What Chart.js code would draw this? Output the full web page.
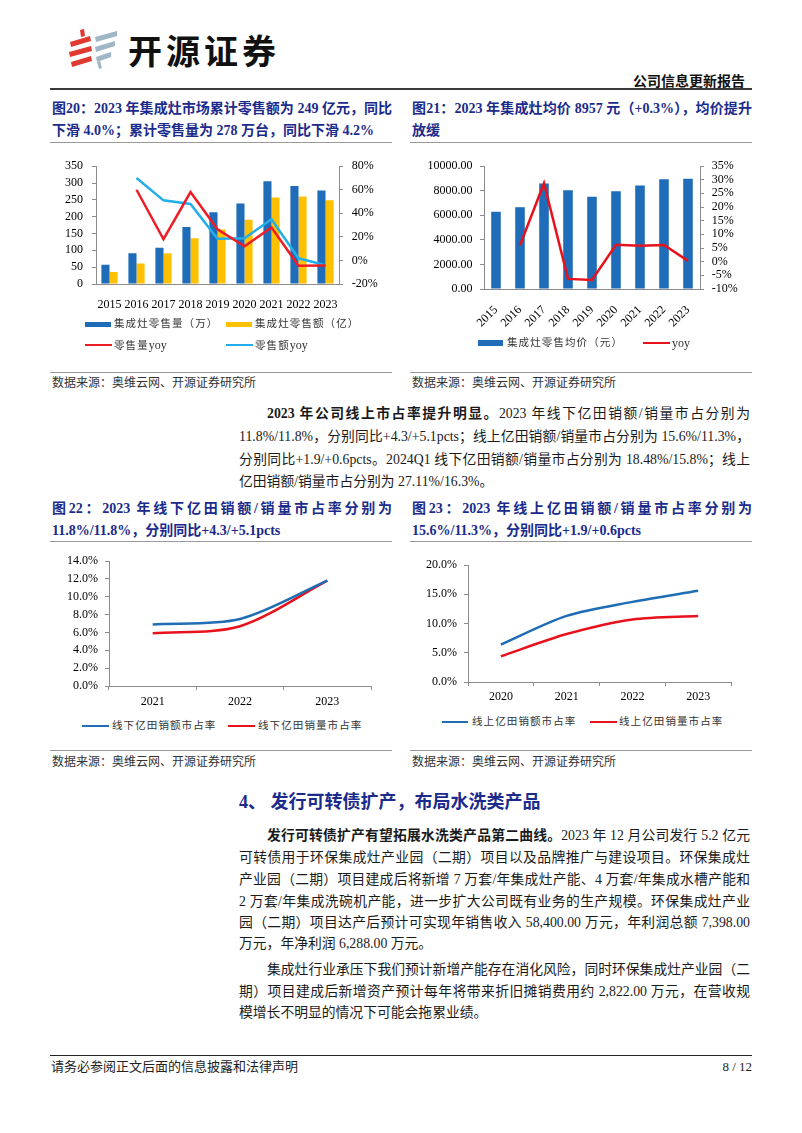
<!DOCTYPE html>
<html><head><meta charset="utf-8">
<script src="https://cdn.jsdelivr.net/npm/chart.js@4.4.1/dist/chart.umd.min.js"></script>
<style>
html,body{margin:0;padding:0;background:#fff;}
body{width:802px;height:1133px;position:relative;overflow:hidden;font-family:"Liberation Serif","Noto Sans CJK SC",serif;color:#1a1a1a;}
.a{position:absolute;white-space:nowrap;}
.t{font-weight:bold;color:#1b2b8c;font-size:14px;line-height:22px;}
.j{text-align:justify;text-align-last:justify;}
.p{font-size:13.8px;line-height:22px;color:#1a1a1a;}
.src{font-size:12px;color:#333;line-height:16px;}
.hr{position:absolute;height:0;}
.lg{position:absolute;font-size:10.5px;letter-spacing:1.1px;color:#333;line-height:14px;white-space:nowrap;}
.lg span{letter-spacing:0;font-size:12px;}
.sw{position:absolute;}
canvas{position:absolute;}
</style></head>
<body>
<!-- header -->
<svg class="a" style="left:66px;top:28px" width="56" height="42" viewBox="0 0 56 42">
  <polygon points="14,2 18,1 19,8 15,9" fill="#e0392f"/>
  <polygon points="4,14 24,8 25,13 5,19" fill="#e0392f"/>
  <polygon points="3,24 25,18 26,23 4,29" fill="#e0392f"/>
  <polygon points="5,34 25,28 26,33 6,39" fill="#e0392f"/>
  <polygon points="29,9 51,3 51,8 30,14" fill="#9fb6c6"/>
  <polygon points="29,19 49,13 49,18 30,24" fill="#9fb6c6"/>
  <polygon points="30,29 45,24 45,29 31,34" fill="#9fb6c6"/>
  <polygon points="31,34 34,33 36,40 33,41" fill="#9fb6c6"/>
</svg>
<div class="a" style="left:128px;top:27px;font-family:'Noto Sans CJK SC';font-weight:700;font-size:34px;letter-spacing:4px;color:#111;line-height:46px;">开源证券</div>
<div class="a" style="right:57px;top:71px;font-weight:bold;font-size:14px;line-height:22px;color:#111;">公司信息更新报告</div>
<div class="hr" style="left:50px;top:88px;width:702px;border-top:2px solid #3a3a3a;"></div>

<!-- fig 20 / 21 titles -->
<div class="a t j" style="left:52px;top:98px;width:340px;">图20：2023 年集成灶市场累计零售额为 249 亿元，同比</div>
<div class="a t" style="left:52px;top:120px;">下滑 4.0%；累计零售量为 278 万台，同比下滑 4.2%</div>
<div class="a t j" style="left:412px;top:98px;width:340px;">图21：2023 年集成灶均价 8957 元（+0.3%），均价提升</div>
<div class="a t" style="left:412px;top:120px;">放缓</div>
<div class="hr" style="left:50px;top:142px;width:342px;border-top:1px solid #9a9a9a;"></div>
<div class="hr" style="left:410px;top:142px;width:342px;border-top:1px solid #9a9a9a;"></div>

<canvas id="c1" width="345" height="160" style="left:50px;top:150px"></canvas>
<canvas id="c2" width="347" height="180" style="left:405px;top:150px"></canvas>

<div class="hr" style="left:50px;top:372px;width:342px;border-top:1px solid #9a9a9a;"></div>
<div class="hr" style="left:410px;top:372px;width:342px;border-top:1px solid #9a9a9a;"></div>
<div class="a src" style="left:52px;top:375px;">数据来源：奥维云网、开源证券研究所</div>
<div class="a src" style="left:412px;top:375px;">数据来源：奥维云网、开源证券研究所</div>

<!-- paragraph 1 -->
<div class="a p j" style="left:239px;top:403px;width:483px;padding-left:28px;"><b>2023 年公司线上市占率提升明显。</b>2023 年线下亿田销额/销量市占分别为</div>
<div class="a p j" style="left:239px;top:426px;width:511px;">11.8%/11.8%，分别同比+4.3/+5.1pcts；线上亿田销额/销量市占分别为 15.6%/11.3%，</div>
<div class="a p j" style="left:239px;top:449px;width:511px;">分别同比+1.9/+0.6pcts。2024Q1 线下亿田销额/销量市占分别为 18.48%/15.8%；线上</div>
<div class="a p" style="left:239px;top:471px;">亿田销额/销量市占分别为 27.11%/16.3%。</div>

<!-- fig 22 / 23 titles -->
<div class="a t j" style="left:52px;top:498px;width:340px;">图22：2023 年线下亿田销额/销量市占率分别为</div>
<div class="a t" style="left:52px;top:520px;">11.8%/11.8%，分别同比+4.3/+5.1pcts</div>
<div class="a t j" style="left:412px;top:498px;width:340px;">图23：2023 年线上亿田销额/销量市占率分别为</div>
<div class="a t" style="left:412px;top:520px;">15.6%/11.3%，分别同比+1.9/+0.6pcts</div>
<div class="hr" style="left:50px;top:541px;width:342px;border-top:1px solid #9a9a9a;"></div>
<div class="hr" style="left:410px;top:541px;width:342px;border-top:1px solid #9a9a9a;"></div>

<canvas id="c3" width="345" height="172" style="left:50px;top:540px"></canvas>
<canvas id="c4" width="347" height="168" style="left:405px;top:540px"></canvas>

<div class="hr" style="left:50px;top:750px;width:342px;border-top:1px solid #9a9a9a;"></div>
<div class="hr" style="left:410px;top:750px;width:342px;border-top:1px solid #9a9a9a;"></div>
<div class="a src" style="left:52px;top:754px;">数据来源：奥维云网、开源证券研究所</div>
<div class="a src" style="left:412px;top:754px;">数据来源：奥维云网、开源证券研究所</div>

<!-- section 4 -->
<div class="a" style="left:239px;top:789px;font-weight:bold;font-size:18px;line-height:26px;color:#1b2b8c;">4、 发行可转债扩产，布局水洗类产品</div>
<div class="a p j" style="left:239px;top:825px;width:483px;padding-left:28px;"><b>发行可转债扩产有望拓展水洗类产品第二曲线。</b>2023 年 12 月公司发行 5.2 亿元</div>
<div class="a p j" style="left:239px;top:847px;width:511px;">可转债用于环保集成灶产业园（二期）项目以及品牌推广与建设项目。环保集成灶</div>
<div class="a p j" style="left:239px;top:869px;width:511px;">产业园（二期）项目建成后将新增 7 万套/年集成灶产能、4 万套/年集成水槽产能和</div>
<div class="a p j" style="left:239px;top:891px;width:511px;">2 万套/年集成洗碗机产能，进一步扩大公司既有业务的生产规模。环保集成灶产业</div>
<div class="a p j" style="left:239px;top:912px;width:511px;">园（二期）项目达产后预计可实现年销售收入 58,400.00 万元，年利润总额 7,398.00</div>
<div class="a p" style="left:239px;top:933px;">万元，年净利润 6,288.00 万元。</div>
<div class="a p j" style="left:239px;top:959px;width:483px;padding-left:28px;">集成灶行业承压下我们预计新增产能存在消化风险，同时环保集成灶产业园（二</div>
<div class="a p j" style="left:239px;top:981px;width:511px;">期）项目建成后新增资产预计每年将带来折旧摊销费用约 2,822.00 万元，在营收规</div>
<div class="a p" style="left:239px;top:1002px;">模增长不明显的情况下可能会拖累业绩。</div>

<!-- footer -->
<div class="hr" style="left:50px;top:1055px;width:702px;border-top:1.5px solid #222;"></div>
<div class="a" style="left:51px;top:1058px;font-size:13px;line-height:18px;color:#222;">请务必参阅正文后面的信息披露和法律声明</div>
<div class="a" style="right:50px;top:1058px;font-size:13px;line-height:18px;color:#222;">8 / 12</div>

<div id="legends"></div>

<script>
// ---------- data ----------
const years = ['2015','2016','2017','2018','2019','2020','2021','2022','2023'];
const salesVolume = [57, 91, 108, 169, 213, 239, 305, 291, 278];   // 集成灶零售量（万）
const salesAmount = [36, 61, 91, 136, 162, 191, 257, 260, 249];    // 集成灶零售额（亿）
const volumeYoy   = [null, 60, 18, 58, 26.5, 12, 28, -4.5, -4.2];  // %
const amountYoy   = [null, 70, 51, 48, 18.5, 18.8, 35, 1.8, -4.0]; // %
const avgPrice    = [6280, 6650, 8570, 8030, 7490, 7950, 8420, 8930, 8957];
const priceYoy    = [null, 6.0, 28.7, -6.3, -6.7, 6.2, 5.8, 6.1, 0.3];
const offlineYears = ['2021','2022','2023'];
const offlineAmtShare = [6.9, 7.5, 11.8];
const offlineVolShare = [5.9, 6.7, 11.8];
const onlineYears = ['2020','2021','2022','2023'];
const onlineAmtShare = [6.4, 11.3, 13.7, 15.6];
const onlineVolShare = [4.4, 8.2, 10.7, 11.3];

const labels1 = ['集成灶零售量（万）','集成灶零售额（亿）','零售量yoy','零售额yoy'];
const labels2 = ['集成灶零售均价（元）','yoy'];
const labels3 = ['线下亿田销额市占率','线下亿田销量市占率'];
const labels4 = ['线上亿田销额市占率','线上亿田销量市占率'];

// ---------- style ----------
const BLUE='#1f6cb8', YELLOW='#ffc000', RED='#ee1c25', CYAN='#22aee8';
const LBLUE='#1f6db5', LRED='#e8121c', AX='#8c8c8c';
Chart.defaults.font.family = "'Liberation Serif','Noto Sans CJK SC',serif";
Chart.defaults.font.size = 12;
Chart.defaults.color = '#000';
const common = {responsive:false, animation:false, plugins:{legend:{display:false}, tooltip:{enabled:false}}};
const fixW = w => s => { s.width = w; };
const fixH = h => s => { s.height = h; };

// ---------- chart 1 ----------
new Chart(document.getElementById('c1'), {
  type:'bar',
  data:{labels:years, datasets:[
    {label:labels1[0], data:salesVolume, backgroundColor:BLUE, yAxisID:'y', order:2, barPercentage:1, categoryPercentage:0.6},
    {label:labels1[1], data:salesAmount, backgroundColor:YELLOW, yAxisID:'y', order:2, barPercentage:1, categoryPercentage:0.6},
    {type:'line', label:labels1[2], data:volumeYoy, yAxisID:'y1', borderColor:RED, borderWidth:2.5, pointRadius:0, order:0},
    {type:'line', label:labels1[3], data:amountYoy, yAxisID:'y1', borderColor:CYAN, borderWidth:2.5, pointRadius:0, order:0}
  ]},
  options:{...common, layout:{padding:{top:16,left:0,right:0,bottom:0}},
    scales:{
      x:{grid:{display:false}, border:{display:true,color:AX}, ticks:{maxRotation:0,minRotation:0,autoSkip:false,padding:6}, afterFit:fixH(26)},
      y:{position:'left', min:0, max:350, ticks:{stepSize:50, autoSkip:false, padding:9}, grid:{drawOnChartArea:false, tickLength:4, color:AX}, border:{color:AX}, afterFit:fixW(46)},
      y1:{position:'right', min:-20, max:80, ticks:{stepSize:20, autoSkip:false, padding:8.7, callback:v=>v+'%'}, grid:{drawOnChartArea:false, tickLength:4, color:AX}, border:{color:AX}, afterFit:fixW(56)}
    }}
});

// ---------- chart 2 ----------
new Chart(document.getElementById('c2'), {
  type:'bar',
  data:{labels:years, datasets:[
    {label:labels2[0], data:avgPrice, backgroundColor:BLUE, yAxisID:'y', order:2, barPercentage:0.4, categoryPercentage:1},
    {type:'line', label:labels2[1], data:priceYoy, yAxisID:'y1', borderColor:LRED, borderWidth:2.5, pointRadius:0, order:0}
  ]},
  options:{...common, layout:{padding:{top:16,left:0,right:0,bottom:0}},
    scales:{
      x:{grid:{display:false}, border:{display:true,color:AX}, ticks:{maxRotation:45,minRotation:45,autoSkip:false,padding:6}, afterFit:fixH(41)},
      y:{position:'left', min:0, max:10000, ticks:{stepSize:2000, autoSkip:false, padding:7.6, callback:v=>v.toFixed(2)}, grid:{drawOnChartArea:false, tickLength:4, color:AX}, border:{color:AX}, afterFit:fixW(79)},
      y1:{position:'right', min:-10, max:35, ticks:{stepSize:5, autoSkip:false, padding:7.7, callback:v=>v+'%'}, grid:{drawOnChartArea:false, tickLength:4, color:AX}, border:{color:AX}, afterFit:fixW(52)}
    }}
});

// ---------- chart 3 / 4 ----------
function shareChart(id, labels, a, b, names, max, step, pad, yw, xpad){
  return new Chart(document.getElementById(id), {
    type:'line',
    data:{labels:labels, datasets:[
      {label:names[0], data:a, borderColor:LBLUE, borderWidth:2.5, pointRadius:0, tension:0.3},
      {label:names[1], data:b, borderColor:LRED, borderWidth:2.5, pointRadius:0, tension:0.3}
    ]},
    options:{...common, layout:{padding:pad},
      scales:{
        x:{offset:true, grid:{display:true, offset:true, drawOnChartArea:false, tickLength:4, color:AX}, border:{display:true,color:AX}, ticks:{autoSkip:false, maxRotation:0, padding:xpad}, afterFit:fixH(26)},
        y:{min:0, max:max, ticks:{stepSize:step, autoSkip:false, padding:7, callback:v=>v.toFixed(1)+'%'}, grid:{drawOnChartArea:false, tickLength:4, color:AX}, border:{color:AX}, afterFit:fixW(yw)}
      }}
  });
}
shareChart('c3', offlineYears, offlineAmtShare, offlineVolShare, labels3, 14, 2, {top:21,left:0,right:24,bottom:0}, 59, 5);
shareChart('c4', onlineYears, onlineAmtShare, onlineVolShare, labels4, 20, 5, {top:25,left:0,right:21,bottom:0}, 63, 3.5);

// ---------- HTML legends ----------
const lg = document.getElementById('legends');
function item(x, y, w, h, color, text, tx){
  const s = document.createElement('div'); s.className='sw';
  s.style.cssText = `left:${x}px;top:${y-h/2}px;width:${w}px;height:${h}px;background:${color}`;
  lg.appendChild(s);
  const t = document.createElement('div'); t.className='lg';
  t.style.cssText = `left:${tx}px;top:${y-7}px`;
  const m = text.match(/^([^A-Za-z]*)([A-Za-z]*)$/);
  t.appendChild(document.createTextNode(m[1]));
  if (m[2]) { const sp = document.createElement('span'); sp.textContent = m[2]; t.appendChild(sp); }
  lg.appendChild(t);
}
item(85, 324, 26, 5, BLUE, labels1[0], 114);
item(226, 324, 26, 5, YELLOW, labels1[1], 255);
item(85, 345, 27, 2.5, RED, labels1[2], 114);
item(226, 345, 27, 2.5, CYAN, labels1[3], 255);
item(478, 343, 25, 6, BLUE, labels2[0], 507);
item(643, 343, 27, 2.5, LRED, labels2[1], 672);
item(82, 726, 27, 2.5, LBLUE, labels3[0], 112);
item(228, 726, 27, 2.5, LRED, labels3[1], 258);
item(442, 722, 26, 2.5, LBLUE, labels4[0], 472);
item(590, 722, 27, 2.5, LRED, labels4[1], 619);
</script>
</body></html>
